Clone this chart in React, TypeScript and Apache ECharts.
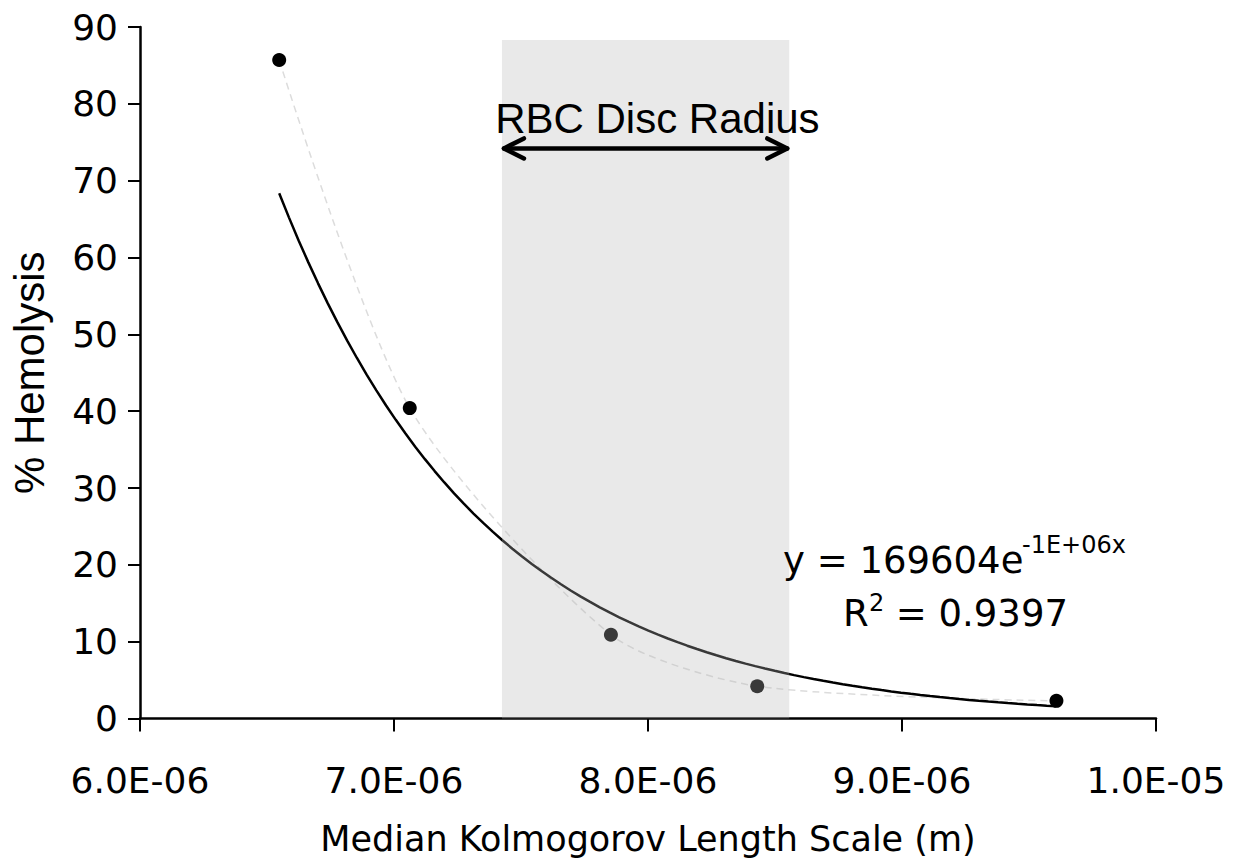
import React, { useEffect, useRef } from "react";
import * as echarts from "echarts";

// Median Kolmogorov length scale (m) and % hemolysis
const kolmogorovScale = [6.548e-6, 7.062e-6, 7.854e-6, 8.43e-6, 9.608e-6];
const hemolysis = [85.7, 40.4, 10.9, 4.2, 2.3];

// RBC disc radius band (m) and its height (%)
const rbcBand = [7.425e-6, 8.556e-6];
const rbcBandTop = 88.3;
const arrowLevel = 74.2;
const rbcLabelPos = [8.037e-6, 78.1];

const xTicks = { min: 6e-6, max: 1e-5, interval: 1e-6 };
const yTicks = { min: 0, max: 90, interval: 10 };

const equationText = "y = 169604e";
const equationExp = "-1E+06x";
const r2Lead = "R";
const r2Sup = "2";
const r2Text = " = 0.9397";

function fitExponential(xs: number[], ys: number[]) {
  const n = xs.length;
  const ly = ys.map((v) => Math.log(v));
  const mx = xs.reduce((a, b) => a + b, 0) / n;
  const my = ly.reduce((a, b) => a + b, 0) / n;
  let sxy = 0;
  let sxx = 0;
  for (let i = 0; i < n; i++) {
    sxy += (xs[i] - mx) * (ly[i] - my);
    sxx += (xs[i] - mx) * (xs[i] - mx);
  }
  const b = sxy / sxx;
  const a = Math.exp(my - b * mx);
  return { a, b };
}

function fmtSci(v: number) {
  const [m, e] = v.toExponential(1).split("e");
  const exp = parseInt(e, 10);
  const sign = exp < 0 ? "-" : "+";
  return `${m}E${sign}${String(Math.abs(exp)).padStart(2, "0")}`;
}

export default function App() {
  const ref = useRef<HTMLDivElement>(null);

  useEffect(() => {
    document.body.style.margin = "0";
    if (!ref.current) return;
    const chart = echarts.init(ref.current, null, { renderer: "svg" });

    const { a, b } = fitExponential(kolmogorovScale, hemolysis);
    const x0 = kolmogorovScale[0];
    const x1 = kolmogorovScale[kolmogorovScale.length - 1];
    const trend: number[][] = [];
    const steps = 80;
    for (let i = 0; i <= steps; i++) {
      const x = x0 + ((x1 - x0) * i) / steps;
      trend.push([x, a * Math.exp(b * x)]);
    }

    const points = kolmogorovScale.map((x, i) => [x, hemolysis[i]]);
    const tickFont = "'DejaVu Sans', Verdana, sans-serif";

    chart.setOption({
      animation: false,
      backgroundColor: "#ffffff",
      grid: { left: 137, right: 90, top: 27, bottom: 148.5, containLabel: false },
      xAxis: {
        type: "value",
        min: xTicks.min,
        max: xTicks.max,
        interval: xTicks.interval,
        name: "Median Kolmogorov Length Scale (m)",
        nameLocation: "middle",
        nameGap: 103,
        nameTextStyle: { fontFamily: tickFont, fontSize: 35, color: "#000" },
        axisLine: { lineStyle: { color: "#000", width: 2.5 } },
        axisTick: { show: true, length: 13, lineStyle: { color: "#000", width: 2 } },
        axisLabel: {
          formatter: (v: number) => fmtSci(v),
          fontFamily: tickFont,
          fontSize: 36,
          color: "#000",
          margin: 44,
        },
        splitLine: { show: false },
      },
      yAxis: {
        type: "value",
        min: yTicks.min,
        max: yTicks.max,
        interval: yTicks.interval,
        name: "% Hemolysis",
        nameLocation: "middle",
        nameGap: 90,
        nameTextStyle: { fontFamily: "'Liberation Sans', Arial, sans-serif", fontSize: 42, color: "#000" },
        axisLine: { show: true, lineStyle: { color: "#000", width: 2.5 } },
        axisTick: { show: true, length: 12, lineStyle: { color: "#000", width: 2 } },
        axisLabel: {
          fontFamily: tickFont,
          fontSize: 36,
          color: "#000",
          margin: 22,
        },
        splitLine: { show: false },
      },
      series: [
        {
          name: "connect",
          type: "line",
          data: points,
          smooth: 0.25,
          showSymbol: false,
          symbol: "none",
          lineStyle: { color: "#dcdcdc", width: 1.5, type: [7, 5] },
          z: 1,
          silent: true,
        },
        {
          name: "trend",
          type: "line",
          data: trend,
          showSymbol: false,
          symbol: "none",
          lineStyle: { color: "#000", width: 2.5, opacity: 1 },
          z: 2,
          silent: true,
          markArea: {
            z: 10,
            silent: true,
            itemStyle: { color: "rgba(185,185,185,0.31)", borderWidth: 0 },
            label: { show: false },
            data: [[{ coord: [rbcBand[0], 0] }, { coord: [rbcBand[1], rbcBandTop] }]],
          },
        },
        {
          name: "data",
          type: "scatter",
          data: points,
          symbol: "circle",
          symbolSize: 14,
          itemStyle: { color: "#000", opacity: 1 },
          z: 3,
          silent: true,
        },
      ],
    });

    const p0 = chart.convertToPixel({ gridIndex: 0 }, [rbcBand[0], arrowLevel]) as number[];
    const p1 = chart.convertToPixel({ gridIndex: 0 }, [rbcBand[1], arrowLevel]) as number[];
    const lbl = chart.convertToPixel({ gridIndex: 0 }, rbcLabelPos) as number[];
    const lx = p0[0] + 2;
    const rx = p1[0] - 2;
    const ay = p0[1];
    const arrowStyle = { stroke: "#000", lineWidth: 4.5, fill: null, lineCap: "round", lineJoin: "round" };

    const eqFont = "'DejaVu Sans', Verdana, sans-serif";

    chart.setOption({
      graphic: [
        { type: "line", z: 20, shape: { x1: lx, y1: ay, x2: rx, y2: ay }, style: arrowStyle },
        {
          type: "polyline",
          z: 20,
          shape: { points: [[lx + 20, ay - 10], [lx, ay], [lx + 20, ay + 10]] },
          style: arrowStyle,
        },
        {
          type: "polyline",
          z: 20,
          shape: { points: [[rx - 20, ay - 10], [rx, ay], [rx - 20, ay + 10]] },
          style: arrowStyle,
        },
        {
          type: "text",
          z: 20,
          x: lbl[0],
          y: lbl[1],
          style: {
            text: "RBC Disc Radius",
            fontFamily: "'Liberation Sans', Arial, sans-serif",
            fontSize: 42,
            fill: "#000",
            align: "center",
            verticalAlign: "middle",
          },
        },
        {
          type: "text",
          z: 20,
          x: 783,
          y: 560,
          style: { text: equationText, fontFamily: eqFont, fontSize: 37, fill: "#000", align: "left", verticalAlign: "middle" },
        },
        {
          type: "text",
          z: 20,
          x: 1022,
          y: 545,
          style: { text: equationExp, fontFamily: eqFont, fontSize: 24, fill: "#000", align: "left", verticalAlign: "middle" },
        },
        {
          type: "text",
          z: 20,
          x: 843,
          y: 613,
          style: { text: r2Lead, fontFamily: eqFont, fontSize: 37, fill: "#000", align: "left", verticalAlign: "middle" },
        },
        {
          type: "text",
          z: 20,
          x: 869,
          y: 603,
          style: { text: r2Sup, fontFamily: eqFont, fontSize: 24, fill: "#000", align: "left", verticalAlign: "middle" },
        },
        {
          type: "text",
          z: 20,
          x: 884,
          y: 613,
          style: { text: r2Text, fontFamily: eqFont, fontSize: 37, fill: "#000", align: "left", verticalAlign: "middle" },
        },
      ],
    });

    return () => {
      chart.dispose();
    };
  }, []);

  return <div ref={ref} style={{ width: 1246, height: 867 }} />;
}
